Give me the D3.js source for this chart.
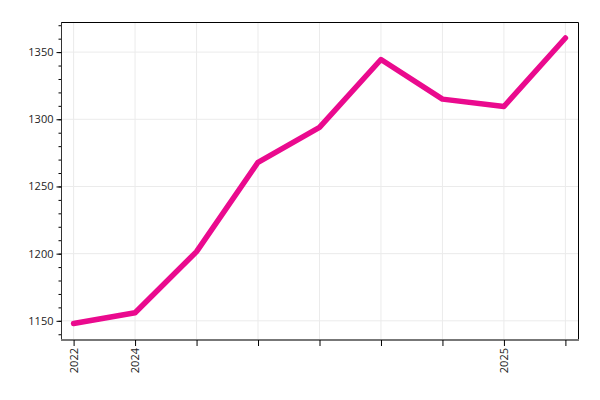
<!DOCTYPE html>
<html>
<head>
<meta charset="utf-8">
<script src="https://cdn.jsdelivr.net/npm/d3@7"></script>
<style>
  body { margin: 0; background: #fff; }
  text { font-family: "Open Sans", sans-serif; font-size: 11px; fill: #222; }
</style>
</head>
<body>
<div id="chart"></div>
<script>
var categories = ["p1", "p2", "p3", "p4", "p5", "p6", "p7", "p8", "p9"];
var tickLabels = ["2022", "2024", "", "", "", "", "", "2025", ""];
var values = [1148, 1156, 1201.5, 1268, 1294, 1344.5, 1315, 1309.5, 1360.5];

var width = 600,
    height = 400,
    plotL = 61, plotR = 578, plotT = 22, plotB = 339.5;

var svg = d3.select("#chart")
  .append("svg")
  .attr("width", width)
  .attr("height", height);

var x = d3.scalePoint()
  .domain(categories)
  .range([plotL, plotR])
  .padding(0.205);

var lo = d3.min(values), hi = d3.max(values), pad = (hi - lo) * 0.056;
var y = d3.scaleLinear()
  .domain([lo - pad, hi + pad])
  .range([plotB, plotT]);

// grid
svg.append("g")
  .selectAll("line")
  .data(categories)
  .enter().append("line")
  .attr("x1", function(d){ return x(d); })
  .attr("x2", function(d){ return x(d); })
  .attr("y1", plotT).attr("y2", plotB)
  .attr("stroke", "#ebebeb");

svg.append("g")
  .selectAll("line")
  .data(y.ticks(5))
  .enter().append("line")
  .attr("x1", plotL).attr("x2", plotR)
  .attr("y1", function(d){ return y(d); })
  .attr("y2", function(d){ return y(d); })
  .attr("stroke", "#ebebeb");

// frame top and right
svg.append("path")
  .attr("d", "M" + plotL + "," + (plotT + 0.5) + "H" + (plotR + 0.5) + "V" + plotB)
  .attr("fill", "none")
  .attr("stroke", "#000");

// y axis, minor ticks
var yMinor = svg.append("g")
  .attr("transform", "translate(" + (plotL + 0.5) + ",0)")
  .call(d3.axisLeft(y).tickValues(d3.range(1140, 1371, 10)).tickSize(3).tickFormat(""));
yMinor.select(".domain").remove();

var yAxis = svg.append("g")
  .attr("transform", "translate(" + (plotL + 0.5) + ",0)")
  .call(d3.axisLeft(y).ticks(5).tickFormat(d3.format("d")).tickSize(5).tickPadding(3).tickSizeOuter(0));
yAxis.select(".domain").attr("stroke", "#333").attr("d", "M0," + plotT + "V" + plotB);
yAxis.selectAll("text").style("font-family", "Open Sans").style("font-size", "11px");

// x axis
var xAxis = svg.append("g")
  .attr("transform", "translate(0," + (plotB + 0.5) + ")")
  .call(d3.axisBottom(x).tickSize(6).tickSizeOuter(0)
    .tickFormat(function(d, i){ return tickLabels[i]; }));
xAxis.select(".domain")
  .attr("stroke", "#777").attr("stroke-width", 2)
  .attr("d", "M" + plotL + ",0H" + (plotR + 1));
xAxis.selectAll("text")
  .attr("transform", "rotate(-90)")
  .attr("text-anchor", "end")
  .attr("x", -8).attr("y", 0).attr("dy", "0.35em")
  .style("font-family", "Open Sans").style("font-size", "11px");

// line
var line = d3.line()
  .x(function(d, i){ return x(categories[i]); })
  .y(function(d){ return y(d); });

svg.append("path")
  .datum(values)
  .attr("d", line)
  .attr("fill", "none")
  .attr("stroke", "#ea0a8e")
  .attr("stroke-width", 5.5)
  .attr("stroke-linecap", "round")
  .attr("stroke-linejoin", "round");
</script>
</body>
</html>
